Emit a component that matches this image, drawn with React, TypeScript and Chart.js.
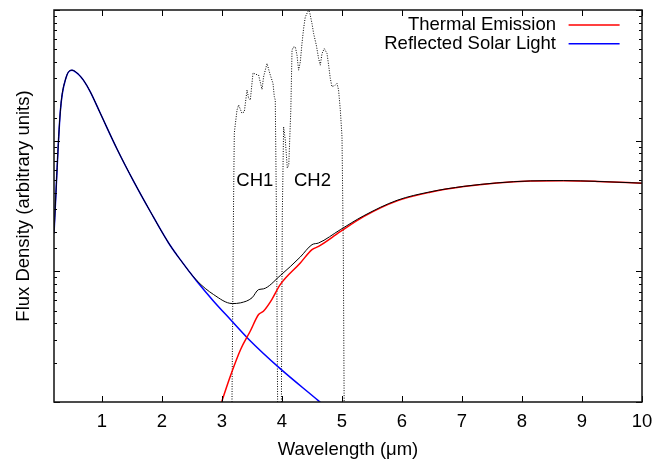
import { useEffect, useRef } from 'react';
import { Chart, registerables } from 'chart.js';

Chart.register(...registerables);

// ---- data (wavelength in µm, flux in arbitrary units) ----
const reflectedX = [0.2, 0.305, 0.4, 0.5, 0.61, 0.69, 0.805, 0.97, 1.25, 1.53, 1.805, 2.11, 2.305, 2.58, 2.86, 3.14, 3.44, 3.97, 4.61, 5.0];
const reflectedY = [0.0195, 0.1664, 0.3027, 0.3465, 0.3213, 0.2905, 0.2366, 0.1627, 0.0864, 0.0486, 0.0287, 0.01648, 0.01228, 0.00839, 0.00591, 0.00428, 0.00304, 0.0018, 0.00102, 0.000716];

const thermalX = [2.9, 3.0, 3.14, 3.31, 3.47, 3.61, 3.69, 3.83, 3.97, 4.305, 4.5, 4.61, 4.97, 5.36, 5.92, 6.47, 7.03, 7.58, 8.14, 8.69, 9.25, 10];
const thermalY = [0.000741, 0.00102, 0.00158, 0.00252, 0.00348, 0.00467, 0.00495, 0.00608, 0.00791, 0.01159, 0.01465, 0.01552, 0.0201, 0.0262, 0.0346, 0.0403, 0.0445, 0.0474, 0.0491, 0.0494, 0.0488, 0.0473];

const totalX = [0.2, 0.305, 0.4, 0.5, 0.61, 0.69, 0.805, 0.97, 1.25, 1.53, 1.805, 2.11, 2.305, 2.58, 2.86, 3.17, 3.31, 3.5, 3.61, 3.69, 3.97, 4.305, 4.5, 4.61, 4.97, 5.36, 5.92, 6.47, 7.03, 7.58, 8.14, 8.69, 9.25, 10];
const totalY = [0.0195, 0.1664, 0.3027, 0.3465, 0.3213, 0.2905, 0.2366, 0.1627, 0.0864, 0.0486, 0.0287, 0.01648, 0.01228, 0.0085, 0.00664, 0.00567, 0.00574, 0.00627, 0.00725, 0.00734, 0.00927, 0.01288, 0.016, 0.01648, 0.0208, 0.0266, 0.035, 0.0406, 0.0447, 0.0475, 0.0492, 0.0495, 0.0488, 0.0473];

const ch1X = [3.163, 3.193, 3.205, 3.25, 3.277, 3.333, 3.372, 3.417, 3.443, 3.472, 3.517, 3.555, 3.61, 3.667, 3.693, 3.75, 3.805, 3.85, 3.872, 3.888, 3.905, 3.93];
const ch1Y = [0.000616, 0.0353, 0.1145, 0.1715, 0.1873, 0.1619, 0.1665, 0.2438, 0.2118, 0.2046, 0.3305, 0.323, 0.3175, 0.2467, 0.308, 0.3898, 0.3175, 0.2743, 0.2168, 0.2046, 0.0353, 0.000616];

const ch2X = [3.988, 4.005, 4.027, 4.055, 4.088, 4.113, 4.147, 4.167, 4.188, 4.222, 4.25, 4.277, 4.305, 4.333, 4.36, 4.388, 4.427, 4.443, 4.46, 4.5, 4.527, 4.572, 4.61, 4.638, 4.667, 4.705, 4.75, 4.777, 4.805, 4.833, 4.888, 4.917, 4.943, 4.972, 5.0, 5.022, 5.038];
const ch2Y = [0.000616, 0.0271, 0.1272, 0.1012, 0.0619, 0.0652, 0.1715, 0.4925, 0.519, 0.522, 0.451, 0.3465, 0.401, 0.554, 0.721, 0.884, 0.9655, 0.995, 0.9655, 0.787, 0.661, 0.5377, 0.4256, 0.3784, 0.4647, 0.507, 0.4647, 0.3784, 0.2994, 0.2584, 0.266, 0.2743, 0.2438, 0.1715, 0.1073, 0.01465, 0.000616];

const xTickValues = [1, 2, 3, 4, 5, 6, 7, 8, 9, 10];
const channelLabels = ['CH1', 'CH2'];
const channelLabelX = [3.547, 4.508];
const channelLabelY = [0.0495, 0.0495];
const legendSeries = ['Thermal Emission', 'Reflected Solar Light'];

const FONT = "'Liberation Sans', Arial, Helvetica, sans-serif";
const FS = 18.5;

const pts = (xs: number[], ys: number[]) => xs.map((x, i) => ({ x, y: ys[i] }));

const framePlugin = {
  id: 'frameTicks',
  afterDatasetsDraw(chart: any) {
    const { ctx, chartArea: a, scales } = chart;
    const xs = scales.x;
    const ys = scales.y;
    ctx.save();
    // channel labels
    ctx.fillStyle = '#000';
    ctx.font = `${FS}px ${FONT}`;
    ctx.textAlign = 'center';
    ctx.textBaseline = 'middle';
    channelLabels.forEach((t, i) => {
      ctx.fillText(t, xs.getPixelForValue(channelLabelX[i]), ys.getPixelForValue(channelLabelY[i]));
    });
    // legend
    const rows = [15, 33.7];
    legendSeries.forEach((name, i) => {
      const ds = chart.data.datasets.find((d: any) => d.label === name);
      if (!ds) return;
      const y = a.top + rows[i];
      ctx.textAlign = 'right';
      ctx.fillText(name, a.right - 86, y);
      ctx.strokeStyle = ds.borderColor;
      ctx.lineWidth = 1.5;
      ctx.beginPath();
      ctx.moveTo(a.right - 73.4, y);
      ctx.lineTo(a.right - 22.4, y);
      ctx.stroke();
    });
    // ticks
    ctx.strokeStyle = '#000';
    ctx.lineWidth = 1;
    ctx.beginPath();
    for (const t of xs.ticks) {
      const px = Math.round(xs.getPixelForValue(t.value)) + 0.5;
      ctx.moveTo(px, a.bottom);
      ctx.lineTo(px, a.bottom - 6);
      ctx.moveTo(px, a.top);
      ctx.lineTo(px, a.top + 6);
    }
    for (const t of ys.ticks) {
      const l = Math.log10(t.value);
      const major = Math.abs(l - Math.round(l)) < 1e-6;
      const len = major ? 6 : 3;
      const py = Math.round(ys.getPixelForValue(t.value)) + 0.5;
      ctx.moveTo(a.left, py);
      ctx.lineTo(a.left + len, py);
      ctx.moveTo(a.right, py);
      ctx.lineTo(a.right - len, py);
    }
    ctx.stroke();
    ctx.lineWidth = 1.5;
    ctx.strokeStyle = '#111';
    ctx.strokeRect(a.left, a.top, a.right - a.left, a.bottom - a.top);
    ctx.restore();
  },
};

export default function App() {
  const ref = useRef<HTMLCanvasElement>(null);
  useEffect(() => {
    document.body.style.margin = '0';
    const canvas = ref.current;
    if (!canvas) return;
    const chart = new Chart(canvas, {
      type: 'line',
      data: {
        datasets: [
          {
            label: 'Total',
            data: pts(totalX, totalY),
            borderColor: '#000000',
            borderWidth: 1,
            pointRadius: 0,
            cubicInterpolationMode: 'monotone',
            order: 0,
          },
          {
            label: 'Thermal Emission',
            data: pts(thermalX, thermalY),
            borderColor: '#ff0000',
            borderWidth: 1.5,
            pointRadius: 0,
            cubicInterpolationMode: 'monotone',
            order: 1,
          },
          {
            label: 'Reflected Solar Light',
            data: pts(reflectedX, reflectedY),
            borderColor: '#0000ff',
            borderWidth: 1.5,
            pointRadius: 0,
            cubicInterpolationMode: 'monotone',
            order: 2,
          },
          {
            label: 'CH1',
            data: pts(ch1X, ch1Y),
            borderColor: '#000000',
            borderWidth: 1,
            borderDash: [1, 1.5],
            pointRadius: 0,
            tension: 0,
            order: 3,
          },
          {
            label: 'CH2',
            data: pts(ch2X, ch2Y),
            borderColor: '#000000',
            borderWidth: 1,
            borderDash: [1, 1.5],
            pointRadius: 0,
            tension: 0,
            order: 3,
          },
        ],
      },
      options: {
        responsive: false,
        animation: false,
        events: [],
        layout: { padding: { top: 10, right: 26, left: 0, bottom: 0 } },
        font: { family: FONT, size: FS },
        plugins: {
          legend: { display: false },
          tooltip: { enabled: false },
        },
        scales: {
          x: {
            type: 'linear',
            min: 0.2,
            max: 10,
            afterBuildTicks: (axis: any) => {
              axis.ticks = xTickValues.map((v) => ({ value: v }));
            },
            afterFit: (axis: any) => {
              axis.height = 60;
            },
            grid: { display: false, drawTicks: false },
            border: { display: false },
            ticks: {
              color: '#000',
              padding: 8.9,
              maxRotation: 0,
              font: { family: FONT, size: FS },
              callback: (v: any) => String(v),
            },
            title: {
              display: true,
              text: 'Wavelength (μm)',
              color: '#000',
              font: { family: FONT, size: FS },
              padding: { top: 0, bottom: 1.2 },
            },
          },
          y: {
            type: 'logarithmic',
            min: 0.001,
            max: 1,
            afterFit: (axis: any) => {
              axis.width = 54;
            },
            grid: { display: false, drawTicks: false },
            border: { display: false },
            ticks: { display: false },
            title: {
              display: true,
              text: 'Flux Density (arbitrary units)',
              color: '#000',
              font: { family: FONT, size: FS },
              padding: { top: 12.4, bottom: 0 },
            },
          },
        },
      },
      plugins: [framePlugin],
    } as any);
    return () => chart.destroy();
  }, []);
  return (
    <div style={{ width: 668, height: 462 }}>
      <canvas ref={ref} width={668} height={462} style={{ display: 'block', width: 668, height: 462 }} />
    </div>
  );
}
